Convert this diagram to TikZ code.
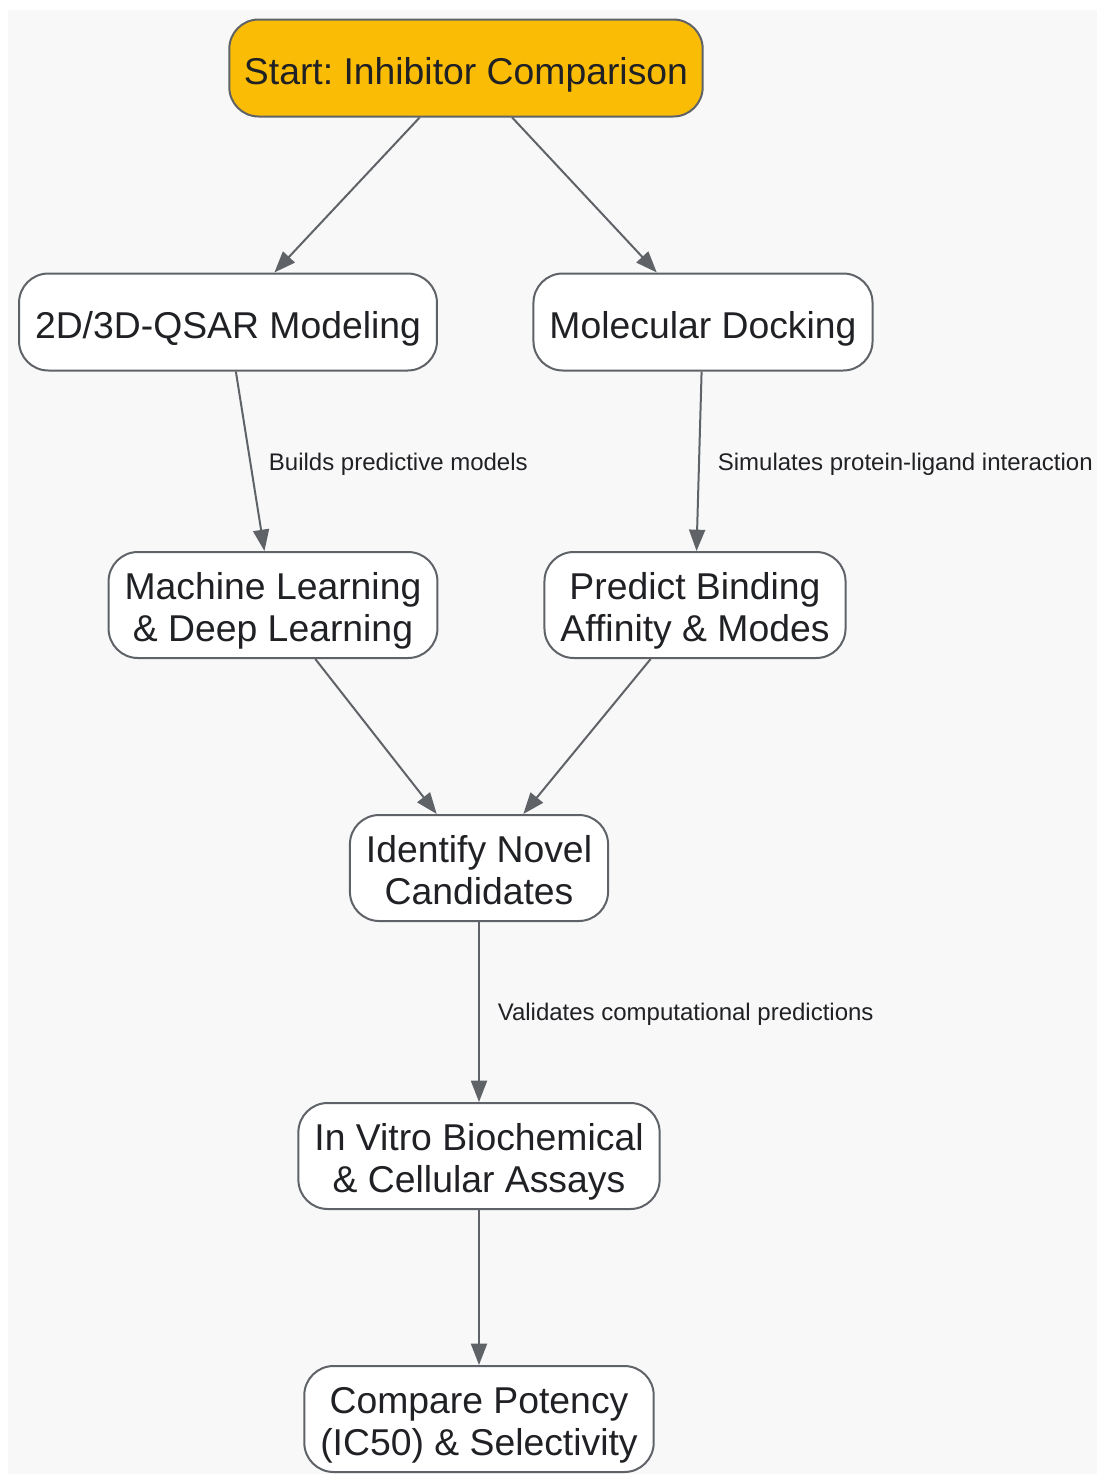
\documentclass[tikz,border=0pt]{standalone}
\usepackage{fontspec}
\setmainfont{Liberation Sans}
\usepackage{xcolor}
\usetikzlibrary{arrows.meta}
\definecolor{bgcol}{HTML}{F8F8F8}
\definecolor{linecol}{HTML}{5F6368}
\definecolor{textcol}{HTML}{202124}
\definecolor{startcol}{HTML}{FBBC05}
\frenchspacing

\begin{document}
\begin{tikzpicture}[x=0.75pt,y=-0.75pt,
    -{Triangle[length=16pt,width=12pt]},line width=1.5pt,draw=linecol,
    stepbox/.style={draw=linecol,line width=1.5pt,fill=white,rounded corners=22pt,
        align=center,text=textcol,inner xsep=12pt,minimum height=72.75pt,
        text height=24pt,text depth=0pt,
        font=\fontsize{28}{31.5}\selectfont},
    tallbox/.style={stepbox,minimum height=79.5pt,text height=54pt,text depth=0pt},
    startbox/.style={stepbox,fill=startcol,inner xsep=11pt},
    lbl/.style={midway,anchor=west,xshift=10pt,yshift=-2pt,text=textcol,font=\fontsize{18}{20}\selectfont}]
    \useasboundingbox (0,0) rectangle (1097,1474);
    \fill[bgcol] (8,10) rectangle (1097,1474);
		\node[startbox] (S) at (466,68) {Start: Inhibitor Comparison};
		\node[stepbox] (Q) at (228,322) {2D/3D-QSAR Modeling};
		\node[stepbox] (D) at (703,322) {Molecular Docking};
		\node[tallbox] (M) at (273,605) {Machine Learning\\\& Deep Learning};
		\node[tallbox] (P) at (695,605) {Predict Binding\\Affinity \& Modes};
		\node[tallbox] (N) at (479,868) {Identify Novel\\Candidates};
		\node[tallbox] (V) at (479,1156) {In Vitro Biochemical\\\& Cellular Assays};
		\node[tallbox] (C) at (479,1419) {Compare Potency\\(IC50) \& Selectivity};
		\path[draw=linecol]
		(S) edge (Q)
		    edge (D)
		(Q) edge node[lbl] {Builds predictive models} (M)
		(D) edge node[lbl] {Simulates protein-ligand interaction} (P)
		(M) edge (N)
		(P) edge (N)
		(N) edge node[lbl] {Validates computational predictions} (V)
		(V) edge (C);
	\end{tikzpicture}
\end{document}
